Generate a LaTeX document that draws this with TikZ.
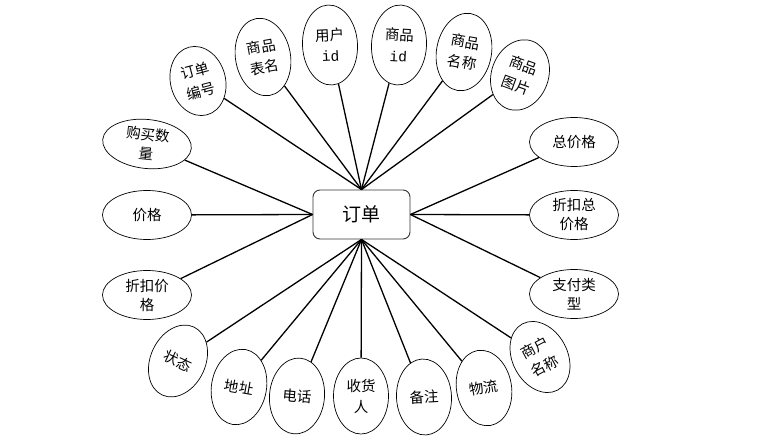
\documentclass[tikz,border=0pt]{standalone}
\usepackage{fontspec}
\setmainfont{Noto Sans CJK SC}
\newfontfamily\monofnt{Liberation Mono}
\usetikzlibrary{shapes.geometric}
\begin{document}
\begin{tikzpicture}[x=1pt,y=-1pt,
  ell/.style={draw=black, line width=0.7pt, ellipse, inner sep=0pt, align=center},
  vell/.style={ell, minimum width=55pt, minimum height=76pt,
    font=\fontsize{14.5}{21}\selectfont},
  hell/.style={ell, minimum width=89pt, minimum height=49pt,
    font=\fontsize{14.5}{19}\selectfont},
  link/.style={line width=1.3pt},
  centre/.style={draw=black!80, line width=0.9pt, rounded corners=7pt,
    minimum width=97pt, minimum height=49pt, inner sep=0pt,
    font=\fontsize{19}{22}\selectfont}]
\useasboundingbox (0,0) rectangle (758,443);
\node[centre] (c) at (361.5,214.5) {订单};
% top
\node[vell, minimum height=70pt, rotate=15] (a1) at (198,81) {订单\\编号};
\node[vell, minimum height=78pt, rotate=10] (a2) at (263,57) {商品\\表名};
\node[vell, minimum height=80pt, rotate=3] (a3) at (330,45) {用户\\{\monofnt id}};
\node[vell, minimum height=80pt, rotate=-3] (a4) at (399,45) {商品\\{\monofnt id}};
\node[vell, minimum height=78pt, rotate=-10] (a5) at (464,52) {商品\\名称};
\node[vell, minimum width=57pt, minimum height=72pt, rotate=-20] (a6) at (520,75) {商品\\图片};
% left
\node[hell, rotate=-6] (l1) at (147,144) {购买数\\量};
\node[hell] (l2) at (147,215) {价格};
\node[hell] (l3) at (147,295) {折扣价\\格};
% right
\node[hell] (r1) at (574,142) {总价格};
\node[hell] (r2) at (574,215) {折扣总\\价格};
\node[hell] (r3) at (574,294) {支付类\\型};
% bottom
\node[vell, minimum height=75pt, rotate=-25] (b1) at (178,361) {状态};
\node[vell, rotate=-10] (b2) at (239,387) {地址};
\node[vell, rotate=-5] (b3) at (297,396) {电话};
\node[vell] (b4) at (361,396) {收货\\人};
\node[vell, rotate=3] (b5) at (424,397) {备注};
\node[vell, rotate=10] (b6) at (484,388) {物流};
\node[vell, minimum height=75pt, rotate=28] (b7) at (540,357) {商户\\名称};
% connectors
\foreach \n in {a1,a2,a3,a4,a5,a6} \draw[link] (c.north) -- (\n);
\foreach \n in {l1,l2,l3} \draw[link] (c.west) -- (\n);
\foreach \n in {r1,r2,r3} \draw[link] (c.east) -- (\n);
\foreach \n in {b1,b2,b3,b4,b5,b6,b7} \draw[link] (c.south) -- (\n);
\end{tikzpicture}
\end{document}
